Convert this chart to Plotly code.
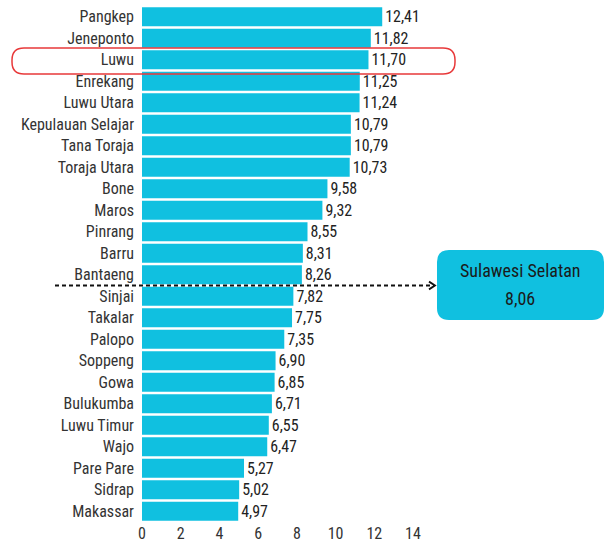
import plotly.graph_objects as go

districts = ["Pangkep", "Jeneponto", "Luwu", "Enrekang", "Luwu Utara", "Kepulauan Selajar",
             "Tana Toraja", "Toraja Utara", "Bone", "Maros", "Pinrang", "Barru", "Bantaeng",
             "Sinjai", "Takalar", "Palopo", "Soppeng", "Gowa", "Bulukumba", "Luwu Timur",
             "Wajo", "Pare Pare", "Sidrap", "Makassar"]
values = [12.41, 11.82, 11.70, 11.25, 11.24, 10.79, 10.79, 10.73, 9.58, 9.32, 8.55, 8.31, 8.26,
          7.82, 7.75, 7.35, 6.90, 6.85, 6.71, 6.55, 6.47, 5.27, 5.02, 4.97]
province_name = "Sulawesi Selatan"
province_value = 8.06
highlight = "Luwu"
x_ticks = [0, 2, 4, 6, 8, 10, 12, 14]

FONT = "Liberation Sans Narrow, Roboto Condensed, DejaVu Sans Condensed, sans-serif"
BAR = "#10C0E0"
W, H = 608, 542
L, R, T, B = 142, 195, 6, 20
PW, PH = W - L - R, H - T - B

def px(x):
    return (x - L) / PW

def py(y):
    return (H - B - y) / PH

def rrect(x0, y0, x1, y1, r):
    def P(x, y):
        return f"{px(x):.5f},{py(y):.5f}"
    return (f"M {P(x0 + r, y0)} L {P(x1 - r, y0)} Q {P(x1, y0)} {P(x1, y0 + r)} "
            f"L {P(x1, y1 - r)} Q {P(x1, y1)} {P(x1 - r, y1)} L {P(x0 + r, y1)} "
            f"Q {P(x0, y1)} {P(x0, y1 - r)} L {P(x0, y0 + r)} Q {P(x0, y0)} {P(x0 + r, y0)} Z")

fig = go.Figure(go.Bar(
    x=values, y=districts, orientation="h",
    marker=dict(color=BAR, line=dict(width=0)),
    text=values, texttemplate="%{x:.2f}", textposition="outside",
    textfont=dict(family=FONT, size=16, color="#222222"),
    cliponaxis=False, hoverinfo="skip",
))

rank_pos = sum(v > province_value for v in values) - 0.5

fig.update_layout(
    width=W, height=H, margin=dict(l=L, r=R, t=T, b=B, autoexpand=False),
    paper_bgcolor="white", plot_bgcolor="white",
    separators=",.", bargap=0.12, showlegend=False,
    font=dict(family=FONT, size=16, color="#333333"),
    xaxis=dict(range=[0, 14], tickvals=x_ticks, showgrid=False, zeroline=False,
               showline=False, ticks="", automargin=False, ticklabelstandoff=0,
               tickfont=dict(size=16, color="#333333")),
    yaxis=dict(autorange="reversed", showgrid=False, showline=False, ticks="",
               automargin=False, ticklabelstandoff=7,
               tickfont=dict(size=16, color="#333333")),
    shapes=[
        dict(type="path", xref="paper", yref="paper",
             path=rrect(12, 48, 455, 74, 12),
             line=dict(color="#E8393A", width=1.5), fillcolor="rgba(0,0,0,0)"),
        dict(type="line", xref="paper", yref="y", x0=px(55), x1=px(434),
             y0=rank_pos, y1=rank_pos, line=dict(color="#111111", width=1.8, dash="4px,3px")),
        dict(type="path", xref="paper", yref="y",
             path=f"M {px(429):.5f},{rank_pos - 0.18} L {px(435):.5f},{rank_pos} L {px(429):.5f},{rank_pos + 0.18}",
             line=dict(color="#111111", width=1.8)),
        dict(type="path", xref="paper", yref="paper",
             path=rrect(437, 250, 604, 320, 12),
             line=dict(width=0), fillcolor=BAR),
    ],
    annotations=[
        dict(xref="paper", yref="paper", x=px(520), y=py(270), text=province_name,
             xanchor="center", yanchor="middle",
             showarrow=False, font=dict(family=FONT, size=18, color="#1a1a1a")),
        dict(xref="paper", yref="paper", x=px(520), y=py(298),
             text=f"{province_value:.2f}".replace(".", ","),
             xanchor="center", yanchor="middle",
             showarrow=False, font=dict(family=FONT, size=18, color="#1a1a1a")),
    ],
)

fig.write_html("out.html", config={"displayModeBar": False},
               post_script="document.body.style.margin='0';document.body.style.overflow='hidden';")
